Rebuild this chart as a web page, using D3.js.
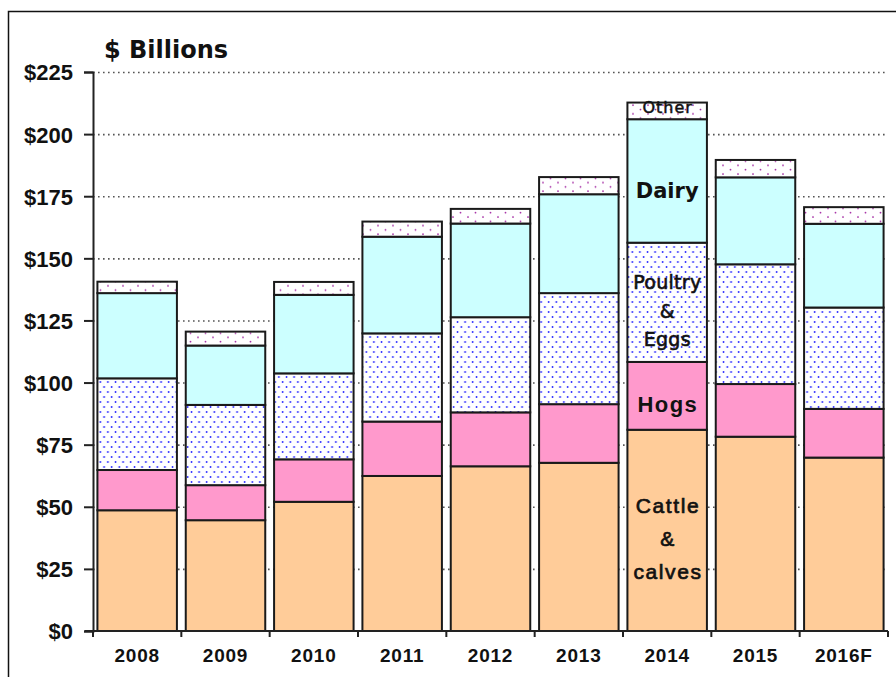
<!DOCTYPE html>
<html>
<head>
<meta charset="utf-8">
<script src="https://cdn.jsdelivr.net/npm/d3@7"></script>
<style>
body { margin: 0; background: #fff; }
svg { display: block; }
</style>
</head>
<body>
<svg id="chart" width="896" height="677"></svg>
<script>
// data ($ billions)
var years = ["2008", "2009", "2010", "2011", "2012", "2013", "2014", "2015", "2016F"];
var cattle  = [48.6, 44.6, 52.0, 62.4, 66.3, 67.7, 81.0, 78.2, 69.8];
var hogs    = [16.2, 14.1, 17.1, 21.9, 21.7, 23.6, 27.3, 21.2, 19.6];
var poultry = [36.9, 32.3, 34.6, 35.5, 38.3, 44.7, 48.0, 48.2, 40.8];
var dairy   = [34.3, 23.9, 31.6, 38.9, 37.7, 39.8, 49.7, 35.0, 33.7];
var other   = [4.6, 5.6, 5.2, 6.1, 5.9, 6.9, 6.7, 7.0, 6.7];
var y_ticks = [0, 25, 50, 75, 100, 125, 150, 175, 200, 225];
var series_keys = ["cattle", "hogs", "poultry", "dairy", "other"];

var svg = d3.select("#chart");
var plot_left = 93, plot_right = 888, plot_top = 72, plot_bottom = 631;

// outer frame
svg.append("rect")
    .attr("x", 8.5).attr("y", 11.5)
    .attr("width", 920).attr("height", 720)
    .attr("fill", "none").attr("stroke", "#111").attr("stroke-width", 1.5);

// fill patterns
var defs = svg.append("defs");
var pp = defs.append("pattern").attr("id", "poultry_pat")
    .attr("patternUnits", "userSpaceOnUse").attr("width", 7.6).attr("height", 10);
pp.append("rect").attr("width", 7.6).attr("height", 10).attr("fill", "#fff");
pp.append("circle").attr("cx", 1.5).attr("cy", 2).attr("r", 0.9).attr("fill", "#2020ff");
pp.append("circle").attr("cx", 5.3).attr("cy", 7).attr("r", 0.9).attr("fill", "#2020ff");

var op = defs.append("pattern").attr("id", "other_pat")
    .attr("patternUnits", "userSpaceOnUse").attr("width", 15).attr("height", 8.6);
op.append("rect").attr("width", 15).attr("height", 8.6).attr("fill", "#fff");
op.append("circle").attr("cx", 3).attr("cy", 2).attr("r", 0.9).attr("fill", "#a020a0");
op.append("circle").attr("cx", 10.5).attr("cy", 6.3).attr("r", 0.9).attr("fill", "#a020a0");

var fills = {
    cattle: "#ffcc99",
    hogs: "#ff99cc",
    poultry: "url(#poultry_pat)",
    dairy: "#ccffff",
    other: "url(#other_pat)"
};

// scales
var x = d3.scaleBand().domain(years).range([plot_left, plot_right])
    .paddingInner(0.1).paddingOuter(0.05);
var y = d3.scaleLinear().domain([0, 225]).range([plot_bottom, plot_top]);

// table for the stack
var rows = years.map(function(yr, i){
    return { year: yr, cattle: cattle[i], hogs: hogs[i], poultry: poultry[i], dairy: dairy[i], other: other[i] };
});
var stacked = d3.stack().keys(series_keys)(rows);

// dotted gridlines (behind bars)
svg.append("g").selectAll("line")
    .data(y_ticks.filter(function(t){ return t > 0; }))
    .enter().append("line")
    .attr("x1", plot_left).attr("x2", plot_right)
    .attr("y1", function(d){ return y(d) + 0.5; })
    .attr("y2", function(d){ return y(d) + 0.5; })
    .attr("stroke", "#555").attr("stroke-width", 1.6)
    .attr("stroke-dasharray", "1.6,3.4");

// bars
svg.append("g").selectAll("g")
    .data(stacked)
    .enter().append("g")
    .attr("fill", function(d){ return fills[d.key]; })
    .selectAll("rect")
    .data(function(d){ return d; })
    .enter().append("rect")
    .attr("x", function(d){ return x(d.data.year); })
    .attr("width", x.bandwidth())
    .attr("y", function(d){ return y(d[1]); })
    .attr("height", function(d){ return y(d[0]) - y(d[1]); })
    .attr("stroke", "#1a1a1a").attr("stroke-width", 2);

// y axis
var yAxis = d3.axisLeft(y).tickValues(y_ticks)
    .tickFormat(function(d){ return "$" + d; })
    .tickSize(9).tickPadding(11);
var yg = svg.append("g").attr("transform", "translate(" + plot_left + ",0)").call(yAxis);
yg.select(".domain").attr("stroke", "#222").attr("stroke-width", 2);
yg.selectAll(".tick line").attr("stroke", "#222").attr("stroke-width", 2);
yg.selectAll("text")
    .attr("font-family", "'Liberation Sans', Arial, sans-serif")
    .attr("font-weight", "bold").attr("font-size", 22)
    .attr("fill", "#111").attr("dy", "0.36em");

// x axis, ticks between categories
var xg = svg.append("g").attr("transform", "translate(0," + plot_bottom + ")");
xg.append("line").attr("x1", plot_left - 8).attr("x2", plot_right)
    .attr("stroke", "#222").attr("stroke-width", 2);
var step = x.step();
xg.selectAll(".xtick")
    .data(years.map(function(d, i){ return i; }).concat([years.length]))
    .enter().append("line")
    .attr("x1", function(i){ return plot_left + i * step; })
    .attr("x2", function(i){ return plot_left + i * step; })
    .attr("y1", 0).attr("y2", 6)
    .attr("stroke", "#222").attr("stroke-width", 2);
xg.selectAll(".xlab")
    .data(years).enter().append("text")
    .attr("x", function(d){ return x(d) + x.bandwidth() / 2; })
    .attr("y", 31)
    .attr("text-anchor", "middle")
    .attr("font-family", "'Liberation Sans', Arial, sans-serif")
    .attr("font-weight", "bold").attr("font-size", 19)
    .attr("letter-spacing", 0.8)
    .attr("fill", "#111")
    .text(function(d){ return d; });

// title
svg.append("text")
    .attr("x", 104).attr("y", 58)
    .attr("font-family", "'DejaVu Sans', Verdana, sans-serif")
    .attr("font-weight", "bold").attr("font-size", 24)
    .attr("fill", "#111")
    .text("$ Billions");

// series labels inside the 2014 bar
var li = years.indexOf("2014");
var cx = x("2014") + x.bandwidth() / 2;
function mid(k){
    var s = stacked[series_keys.indexOf(k)][li];
    return y((s[0] + s[1]) / 2);
}
var dv = "'DejaVu Sans', Verdana, sans-serif";
var lib = "'Liberation Sans', Arial, sans-serif";
var labels = [
    { key: "other",   lines: ["Other"],                 size: 16, weight: "normal", font: dv,  gap: 0,  dy: 8,  ls: 1,   sw: 0.5 },
    { key: "dairy",   lines: ["Dairy"],                 size: 21, weight: "bold",   font: dv,  gap: 0,  dy: 24, ls: 0,   sw: 0 },
    { key: "poultry", lines: ["Poultry", "&", "Eggs"],  size: 19, weight: "normal", font: dv,  gap: 28.5, dy: 22, ls: 0.3, sw: 0.6 },
    { key: "hogs",    lines: ["Hogs"],                  size: 22, weight: "bold",   font: lib, gap: 0,  dy: 24, ls: 1.4, sw: 0 },
    { key: "cattle",  lines: ["Cattle", "&", "calves"], size: 21, weight: "normal", font: lib, gap: 33, dy: 23, ls: 1.6, sw: 0.7 }
];
labels.forEach(function(l){
    var n = l.lines.length;
    var c = mid(l.key);
    l.lines.forEach(function(t, j){
        svg.append("text")
            .attr("x", cx + l.ls / 2)
            .attr("y", c + (j - (n - 1) / 2) * l.gap + l.dy - l.size * 0.35)
            .attr("text-anchor", "middle")
            .attr("font-family", l.font)
            .attr("font-weight", l.weight)
            .attr("font-size", l.size)
            .attr("letter-spacing", l.ls)
            .attr("fill", "#111")
            .attr("stroke", l.sw ? "#111" : "none")
            .attr("stroke-width", l.sw)
            .text(t);
    });
});
</script>
</body>
</html>
